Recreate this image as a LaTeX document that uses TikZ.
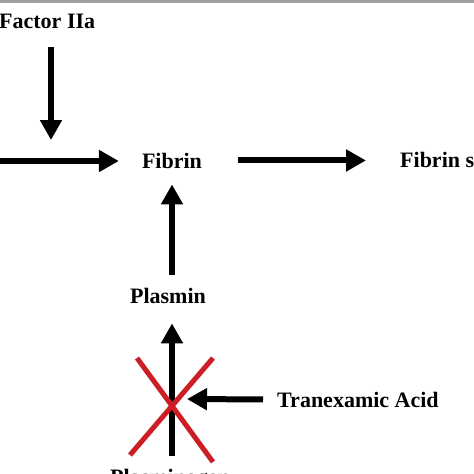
\documentclass[tikz,border=0pt]{standalone}
\usepackage{fontspec}
\setmainfont{Liberation Serif}
\usetikzlibrary{arrows.meta}
\begin{document}
\begin{tikzpicture}[x=1pt,y=-1pt,
  lbl/.style={inner sep=0pt,font=\fontsize{22}{26}\selectfont\bfseries},
  arr/.style={line width=6pt,-{Triangle[length=20pt,width=21pt]}},
  redx/.style={line width=5pt,draw={rgb,255:red,204;green,30;blue,36}}]
\useasboundingbox (0,0) rectangle (474,474);
\clip (0,0) rectangle (474,474);
\fill[white] (0,0) rectangle (474,474);
\fill[gray!75] (0,0) rectangle (474,3);
% nodes
\node[lbl,anchor=base west] (factor) at (-1,28) {Factor IIa};
\node[lbl,anchor=base] (fibrin) at (172,168) {Fibrin};
\node[lbl,anchor=base west] (fibrins) at (400,167) {Fibrin s};
\node[lbl,anchor=base] (plasmin) at (168,303) {Plasmin};
\node[lbl,anchor=base west] (tranex) at (277,407) {Tranexamic Acid};
\node[lbl,anchor=base] (plasminogen) at (170,484) {Plasminogen};
% free ends
\coordinate (fa) at (51,47);
\coordinate (fb) at (51,140);
\coordinate (left) at (-5,161);
\coordinate (cross) at (172,399);
% connectors
\draw[arr] (fa) -- (fb);
\draw[arr,shorten >=23pt] (left) -- (left -| fibrin.west);
\draw[arr,shorten <=36pt,shorten >=34pt] (fibrin.east) -- (fibrins.west |- fibrin.east);
\draw[arr,shorten <=13pt,shorten >=16pt] (fibrin |- plasmin.north) -- (fibrin.south);
\draw[arr,shorten <=13pt,shorten >=20pt] (fibrin |- plasminogen.north) -- (fibrin |- plasmin.south);
\draw[arr,shorten <=14pt,shorten >=15pt] (tranex.west) -- (cross);
% red cross
\draw[redx] (130,455) -- (213,358);
\draw[redx] (137,358) -- (213,462);
\end{tikzpicture}
\end{document}
